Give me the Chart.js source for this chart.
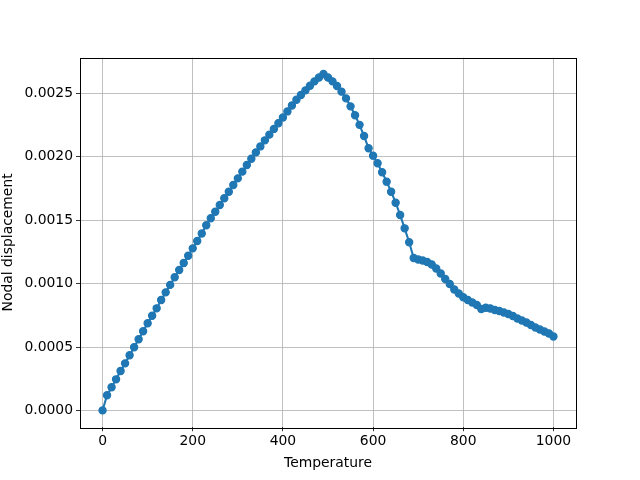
<!DOCTYPE html>
<html>
<head>
<meta charset="utf-8">
<script src="https://cdn.jsdelivr.net/npm/chart.js@4/dist/chart.umd.min.js"></script>
<style>
html,body{margin:0;padding:0;background:#fff;}
#wrap{width:640px;height:480px;}
</style>
</head>
<body>
<div id="wrap"><canvas id="c" width="640" height="480"></canvas></div>
<script>
const temperature = [0,10,20,30,40,50,60,70,80,90,100,110,120,130,140,150,160,170,180,190,200,210,220,230,240,250,260,270,280,290,300,310,320,330,340,350,360,370,380,390,400,410,420,430,440,450,460,470,480,490,500,510,520,530,540,550,560,570,580,590,600,610,620,630,640,650,660,670,680,690,700,710,720,730,740,750,760,770,780,790,800,810,820,830,840,850,860,870,880,890,900,910,920,930,940,950,960,970,980,990,1000];
const displacement = [
0.0, 0.000119, 0.000182, 0.000245, 0.000311, 0.000371, 0.000435, 0.000498, 0.000561, 0.000624,
0.000687, 0.000747, 0.000805, 0.000871, 0.000931, 0.00099, 0.00105, 0.001107, 0.001163, 0.00122,
0.001278, 0.001336, 0.001395, 0.00146, 0.001515, 0.001567, 0.00162, 0.001673, 0.001725, 0.001778,
0.00183, 0.001883, 0.001935, 0.001985, 0.002035, 0.002082, 0.00213, 0.002175, 0.00222, 0.002265,
0.00231, 0.002358, 0.002405, 0.00245, 0.002488, 0.002524, 0.00256, 0.002595, 0.002625, 0.002653,
0.002625, 0.002595, 0.002558, 0.002514, 0.002461, 0.002398, 0.002328, 0.002252, 0.002164, 0.002067,
0.002009, 0.001949, 0.001878, 0.001804, 0.001725, 0.001638, 0.001541, 0.001436, 0.001326, 0.001202,
0.00119, 0.001182, 0.00117, 0.001151, 0.001119, 0.00108, 0.001036, 0.000997, 0.000954, 0.000922,
0.000892, 0.000871, 0.000851, 0.000831, 0.0008, 0.00081, 0.000804, 0.000792, 0.000784, 0.000772,
0.00076, 0.000745, 0.000725, 0.000709, 0.000693, 0.000674, 0.000654, 0.000638, 0.000622, 0.000607,
0.000583];
const xTicks = [0,200,400,600,800,1000];
const yTicks = [0.0000,0.0005,0.0010,0.0015,0.0020,0.0025];
const xLabel = 'Temperature';
const yLabel = 'Nodal displacement';

const points = temperature.map((t,i)=>({x:t,y:displacement[i]}));
const FONT = {family:'DejaVu Sans', size:13.9};

const frame = {
  id:'frame',
  afterDraw(chart){
    const a = chart.chartArea, ctx = chart.ctx;
    ctx.save();
    ctx.strokeStyle = '#000';
    ctx.lineWidth = 1;
    ctx.strokeRect(Math.round(a.left)+0.5, Math.round(a.top)+0.5, Math.round(a.right-a.left), Math.round(a.bottom-a.top));
    ctx.restore();
  }
};

new Chart(document.getElementById('c'), {
  type:'line',
  data:{datasets:[{
    data:points,
    borderColor:'#1f77b4',
    backgroundColor:'#1f77b4',
    borderWidth:2.1,
    pointRadius:3.6,
    pointBorderWidth:1.2,
    pointBorderColor:'#1f77b4',
    pointBackgroundColor:'#1f77b4',
    tension:0,
    fill:false
  }]},
  options:{
    responsive:false,
    animation:false,
    devicePixelRatio:1,
    layout:{padding:{left:0,right:64,top:57.6,bottom:0}},
    plugins:{legend:{display:false},tooltip:{enabled:false}},
    scales:{
      x:{
        type:'linear', min:-50, max:1050,
        afterBuildTicks(ax){ ax.ticks = xTicks.map(v=>({value:v})); },
        afterFit(ax){ ax.height = 52.8; },
        grid:{color:'#b0b0b0', lineWidth:0.8, tickColor:'#000', tickLength:4, drawTicks:true},
        border:{display:false},
        ticks:{color:'#000', font:FONT, padding:2, maxRotation:0, callback:v=>String(v)},
        title:{display:true, text:xLabel, color:'#000', font:FONT, padding:{top:0,bottom:8}}
      },
      y:{
        type:'linear', min:-0.0001325, max:0.0027825,
        afterBuildTicks(ax){ ax.ticks = yTicks.map(v=>({value:v})); },
        afterFit(ax){ ax.width = 80; },
        grid:{color:'#b0b0b0', lineWidth:0.8, tickColor:'#000', tickLength:4, drawTicks:true},
        border:{display:false},
        ticks:{color:'#000', font:FONT, padding:3, callback:v=>Number(v).toFixed(4)},
        title:{display:true, text:yLabel, color:'#000', font:FONT, padding:{top:0,bottom:0}}
      }
    }
  },
  plugins:[frame]
});
</script>
</body>
</html>
